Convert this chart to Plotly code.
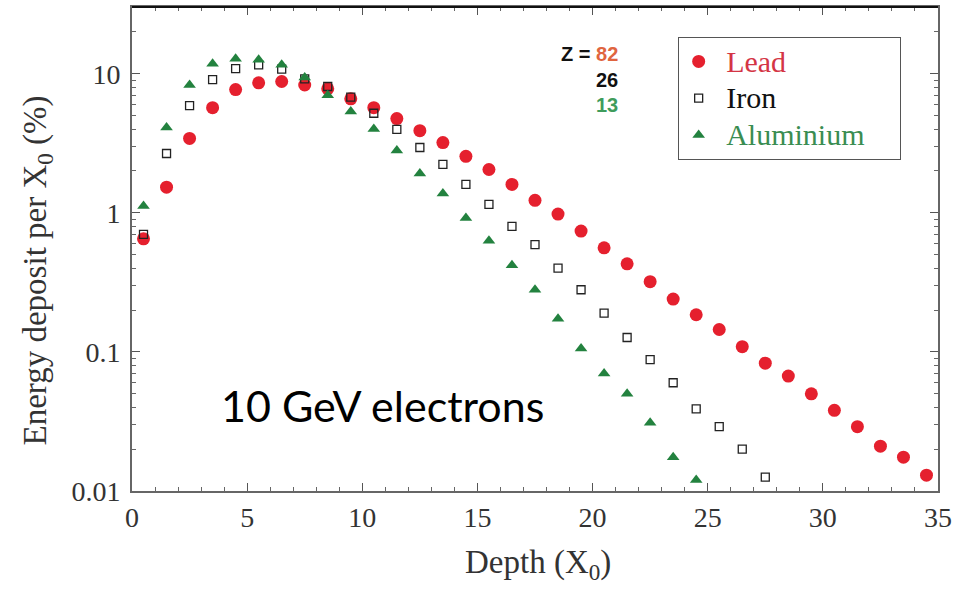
import plotly.graph_objects as go

depth = [i + 0.5 for i in range(35)]

lead = [0.65, 1.53, 3.43, 5.7, 7.7, 8.6, 8.8, 8.3, 7.8, 6.6, 5.7, 4.76, 3.9, 3.2, 2.55,
        2.05, 1.6, 1.23, 0.98, 0.74, 0.56, 0.43, 0.32, 0.24, 0.185, 0.145, 0.109, 0.083,
        0.067, 0.050, 0.038, 0.029, 0.021, 0.0175, 0.013]
iron_depth = depth[:28]
iron = [0.70, 2.67, 5.9, 9.06, 10.9, 11.6, 10.8, 9.2, 8.1, 6.8, 5.2, 3.98, 2.95, 2.23,
        1.6, 1.15, 0.80, 0.59, 0.40, 0.28, 0.19, 0.127, 0.088, 0.060, 0.039, 0.029,
        0.020, 0.0126]
alu_depth = depth[:25]
alu = [1.12, 4.1, 8.3, 11.8, 12.8, 12.6, 11.6, 9.4, 7.0, 5.35, 4.0, 2.81, 1.92, 1.38,
       0.92, 0.63, 0.42, 0.28, 0.173, 0.106, 0.070, 0.050, 0.031, 0.0175, 0.012]

x_ticks = [0, 5, 10, 15, 20, 25, 30, 35]
y_ticks = [0.01, 0.1, 1, 10]
y_tick_labels = ["0.01", "0.1", "1", "10"]
y_minor = [m * 10 ** e for e in (-2, -1, 0, 1) for m in range(2, 10) if m * 10 ** e <= 30]

RED = "#e5202e"
GREEN = "#23823f"

serif = "Liberation Serif"
sans = "Liberation Sans"


def leg(text, color):
    return ("<span style='color:%s;font-size:30px;font-family:\"Liberation Serif\",serif'>"
            "&nbsp;%s&nbsp;&nbsp;&nbsp;&nbsp;</span>" % (color, text))


fig = go.Figure()
fig.add_trace(go.Scatter(x=depth, y=lead, mode="markers", name=leg("Lead", "#d43545"),
                         marker=dict(symbol="circle", size=13, color=RED, line=dict(width=0))))
fig.add_trace(go.Scatter(x=iron_depth, y=iron, mode="markers", name=leg("Iron", "#111111"),
                         marker=dict(symbol="square-open", size=8, color="#222", line=dict(width=1.3))))
fig.add_trace(go.Scatter(x=alu_depth, y=alu, mode="markers", name=leg("Aluminium", "#3a8d52"),
                         marker=dict(symbol="triangle-up", size=11, color=GREEN, line=dict(width=0))))

fig.update_layout(
    width=966, height=590,
    margin=dict(l=132, r=28, t=5, b=99),
    paper_bgcolor="white", plot_bgcolor="white",
    font=dict(family=serif, color="#333"),
    showlegend=True,
    legend=dict(x=0.677, y=0.938, xanchor="left", yanchor="top",
                bordercolor="#555", borderwidth=1, bgcolor="white",
                font=dict(family=serif, size=26, color="#111"),
                itemsizing="trace", tracegroupgap=0),
    xaxis=dict(range=[0, 35], tickvals=x_ticks, ticktext=[str(t) for t in x_ticks],
               ticks="inside", ticklen=8, tickcolor="#555", tickwidth=1.2,
               showline=True, linecolor="#666", linewidth=2, mirror="ticks",
               showgrid=False, zeroline=False,
               tickfont=dict(family=serif, size=28, color="#333"),
               minor=dict(dtick=1, ticks="inside", ticklen=4, tickcolor="#666", showgrid=False)),
    yaxis=dict(type="log", range=[-2, 1.48], tickvals=y_ticks, ticktext=y_tick_labels,
               ticks="inside", ticklen=8, tickcolor="#555", tickwidth=1.2,
               showline=True, linecolor="#666", linewidth=2, mirror="ticks",
               showgrid=False, zeroline=False, ticklabelstandoff=4,
               tickfont=dict(family=serif, size=28, color="#333"),
               minor=dict(tickvals=y_minor, ticks="inside", ticklen=4, tickcolor="#666",
                          showgrid=False)),
)

annotations = [
    dict(text="Depth (X<sub>0</sub>)", x=0.504, y=-0.105, xref="paper", yref="paper",
         xanchor="center", yanchor="top", showarrow=False,
         font=dict(family=serif, size=33, color="#333")),
    dict(text="Energy deposit per X<sub>0</sub> (%)", x=-0.117, y=0.455, xref="paper", yref="paper",
         xanchor="center", yanchor="middle",
         showarrow=False, textangle=-90, font=dict(family=serif, size=33, color="#333")),
    dict(text="10 GeV electrons", x=10.86, y=-1.384, xref="x", yref="y", showarrow=False,
         xanchor="center", yanchor="middle",
         font=dict(family="Lato", size=43, color="#000")),
    dict(text="<b>Z = <span style='color:#e0653f'>82</span></b>", x=21.2, y=1.143, xref="x", yref="y",
         showarrow=False, xanchor="right", yanchor="middle",
         font=dict(family=sans, size=20, color="#111")),
    dict(text="<b>26</b>", x=21.2, y=0.957, xref="x", yref="y",
         showarrow=False, xanchor="right", yanchor="middle",
         font=dict(family=sans, size=20, color="#111")),
    dict(text="<b>13</b>", x=21.2, y=0.778, xref="x", yref="y",
         showarrow=False, xanchor="right", yanchor="middle",
         font=dict(family=sans, size=20, color="#3f9c5c")),
]
fig.update_layout(annotations=annotations)
# darker top frame edge, as in the reference
fig.add_shape(type="line", xref="paper", yref="paper", x0=0, x1=1, y0=1, y1=1,
              line=dict(color="#111", width=2))

fig.write_html("out.html")
